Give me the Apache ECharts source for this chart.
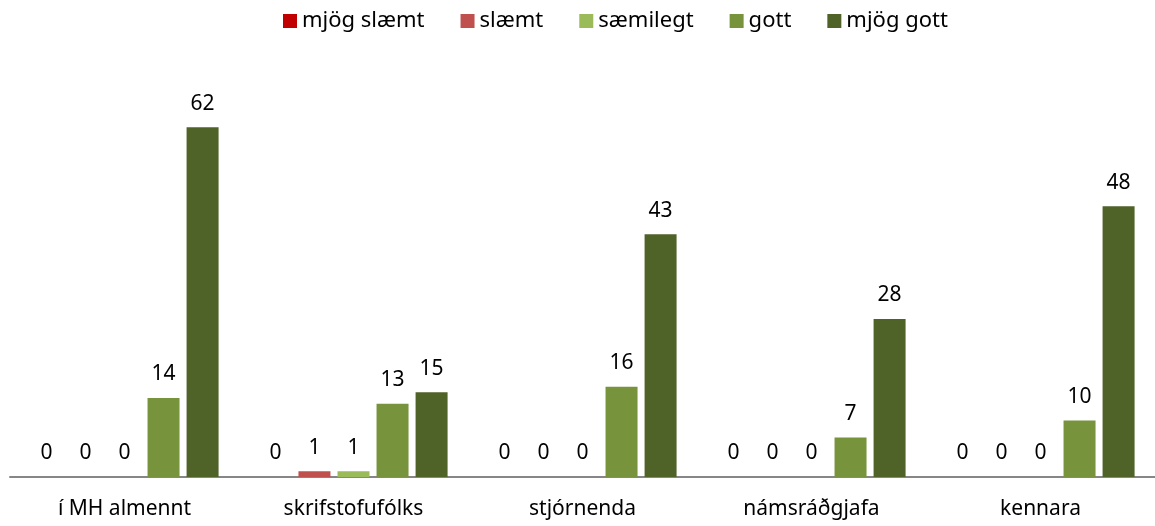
<!DOCTYPE html>
<html>
<head>
<meta charset="utf-8">
<script src="https://cdn.jsdelivr.net/npm/echarts@6/dist/echarts.min.js"></script>
<style>
  html, body { margin: 0; padding: 0; background: #fff; }
  #main { width: 1155px; height: 526px; }
</style>
</head>
<body>
<div id="main"></div>
<script>
var categories = ['í MH almennt', 'skrifstofufólks', 'stjórnenda', 'námsráðgjafa', 'kennara'];
var seriesNames = ['mjög slæmt', 'slæmt', 'sæmilegt', 'gott', 'mjög gott'];
var mjogSlaemt = [0, 0, 0, 0, 0];
var slaemt = [0, 1, 0, 0, 0];
var saemilegt = [0, 1, 0, 0, 0];
var gott = [14, 13, 16, 7, 10];
var mjogGott = [62, 15, 43, 28, 48];
var colors = ['#C00000', '#C0504D', '#9BBB59', '#77933C', '#4F6228'];

var chart = echarts.init(document.getElementById('main'));
var font = 'Noto Sans';
var values = [mjogSlaemt, slaemt, saemilegt, gott, mjogGott];

var series = [];
for (var i = 0; i < seriesNames.length; i++) {
    series.push({
        name: seriesNames[i],
        type: 'bar',
        data: values[i],
        barWidth: 32,
        barGap: '22%',
        itemStyle: { color: colors[i] },
        label: {
            show: true,
            position: 'top',
            distance: 13,
            color: '#000',
            fontFamily: font,
            fontSize: 21
        }
    });
}

var option = {
    animation: false,
    legend: {
        top: 5,
        left: 278,
        itemWidth: 14,
        itemHeight: 14,
        itemGap: 36,
        icon: 'rect',
        textStyle: { fontFamily: font, fontSize: 22, color: '#000' },
        data: seriesNames
    },
    grid: { left: 10, right: 0, top: 82, bottom: 49 },
    xAxis: {
        type: 'category',
        data: categories,
        axisLine: { lineStyle: { color: '#868686', width: 2 } },
        axisTick: { show: false },
        axisLabel: { color: '#000', fontFamily: font, fontSize: 21, margin: 22 }
    },
    yAxis: {
        type: 'value',
        min: 0,
        max: 70,
        show: false,
        splitLine: { show: false }
    },
    series: series
};

chart.setOption(option);
</script>
</body>
</html>
